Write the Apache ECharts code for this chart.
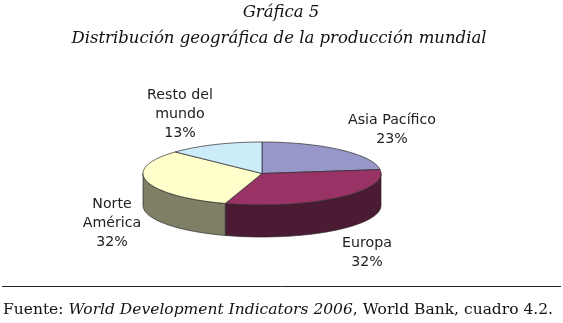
<!DOCTYPE html>
<html><head><meta charset="utf-8">
<style>html,body{margin:0;padding:0;background:#fff}#c{width:563px;height:323px}</style>
<script src="https://cdn.jsdelivr.net/npm/echarts@6/dist/echarts.min.js"></script>
</head><body><div id="c"></div>
<script>
const categories = ['Asia Pacífico', 'Europa', 'Norte\nAmérica', 'Resto del\nmundo'];
const shares = [23, 32, 32, 13];
const topColors = ['#9797c9', '#993366', '#ffffcc', '#cdecfa'];
const sideColors = ['#4f4f75', '#4b1a33', '#7f7f66', '#6a7a80'];
const labelCenters = [[392, 129.5], [367, 253], [112, 223], [180, 114.5]];

const cx = 262, cy = 173.5, rx = 119, ry = 31.5, depth = 32;
const total = shares.reduce((a, b) => a + b, 0);
const pt = (deg, dy) => {
  const t = deg * Math.PI / 180;
  return [cx + rx * Math.sin(t), cy + (dy || 0) - ry * Math.cos(t)];
};
const arc = (a, b, dy) => {
  const out = [], n = Math.max(2, Math.ceil(Math.abs(b - a) / 2));
  for (let i = 0; i <= n; i++) out.push(pt(a + (b - a) * i / n, dy));
  return out;
};
let acc = 0;
const spans = shares.map(v => { const s = acc; acc += v; return [s / total * 360, acc / total * 360]; });
const stroke = { stroke: '#2a2a2a', lineWidth: 0.7 };
const titleStyle = { fontFamily: 'DejaVu Serif', fontStyle: 'italic', fontWeight: 'normal', fontSize: 16.5, color: '#111' };

const chart = echarts.init(document.getElementById('c'), null, { renderer: 'canvas' });
chart.setOption({
  animation: false,
  backgroundColor: '#fff',
  title: [
    { text: 'Gráfica 5', left: 276, textAlign: 'center', top: -1, textStyle: titleStyle },
    { text: 'Distribución geográfica de la producción mundial', left: 274, textAlign: 'center', top: 25, textStyle: titleStyle }
  ],
  graphic: [
    { type: 'line', shape: { x1: 2, y1: 286.5, x2: 561, y2: 286.5 }, style: { stroke: '#222', lineWidth: 1 } },
    { type: 'text', x: 3, y: 302, style: {
        text: '{r|Fuente: }{i|World Development Indicators 2006}{r|, World Bank, cuadro 4.2.}',
        rich: {
          r: { fontFamily: 'DejaVu Serif', fontSize: 15.5, fill: '#111' },
          i: { fontFamily: 'DejaVu Serif', fontStyle: 'italic', fontSize: 15.5, fill: '#111' }
        }
    } }
  ],
  series: [{
    type: 'custom',
    coordinateSystem: 'none',
    silent: true,
    data: shares.map((v, i) => ({ value: [v, i], name: categories[i] })),
    renderItem: (params, api) => {
      const i = api.value(1), [a, b] = spans[i];
      const children = [];
      const f0 = Math.max(a, 90), f1 = Math.min(b, 270);
      if (f1 > f0) {
        children.push({
          type: 'polygon', z2: 1,
          shape: { points: arc(f0, f1, 0).concat(arc(f1, f0, depth)) },
          style: Object.assign({ fill: sideColors[i] }, stroke)
        });
      }
      children.push({
        type: 'polygon', z2: 2,
        shape: { points: [[cx, cy]].concat(arc(a, b, 0)) },
        style: Object.assign({ fill: topColors[i], lineJoin: 'round' }, stroke)
      });
      children.push({
        type: 'text', z2: 3,
        x: labelCenters[i][0], y: labelCenters[i][1],
        style: {
          text: categories[i] + '\n' + shares[i] + '%',
          fontFamily: 'DejaVu Sans', fontSize: 14.2, lineHeight: 19,
          fill: '#222', align: 'center', verticalAlign: 'middle'
        }
      });
      return { type: 'group', children };
    }
  }]
});
</script></body></html>
